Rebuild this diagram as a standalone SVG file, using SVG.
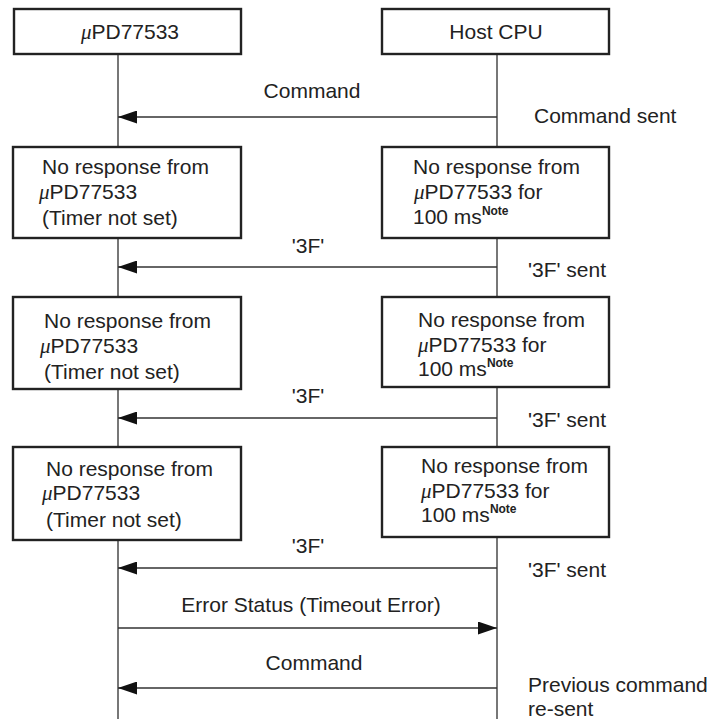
<svg xmlns="http://www.w3.org/2000/svg" width="712" height="719" viewBox="0 0 712 719">
<defs>
<style>
text{font-family:"Liberation Sans",Arial,sans-serif;font-size:21px;fill:#222}
.mu{font-family:"Liberation Serif","Times New Roman",serif;font-style:italic}
.note{font-size:12px;font-weight:bold}
.box{fill:#fff;stroke:#222;stroke-width:2.4}
.life{stroke:#555;stroke-width:1.6;fill:none}
.msg{stroke:#333;stroke-width:1.3;fill:none}
.mid{text-anchor:middle}
</style>
<marker id="ah" viewBox="0 0 19 13" refX="19" refY="6.5" markerWidth="19" markerHeight="13" markerUnits="userSpaceOnUse" orient="auto">
<path d="M0,0 L19,6.5 L0,13 Z" fill="#111"/>
</marker>
</defs>
<rect width="712" height="719" fill="#fff"/>
<g id="lifelines">
<line class="life" x1="118" y1="54" x2="118" y2="719"/>
<line class="life" x1="497" y1="54" x2="497" y2="719"/>
</g>
<g id="connectors">
<line class="msg" x1="497" y1="117" x2="118" y2="117" marker-end="url(#ah)"/>
<line class="msg" x1="497" y1="267" x2="118" y2="267" marker-end="url(#ah)"/>
<line class="msg" x1="497" y1="418" x2="118" y2="418" marker-end="url(#ah)"/>
<line class="msg" x1="497" y1="568" x2="118" y2="568" marker-end="url(#ah)"/>
<line class="msg" x1="118" y1="628" x2="497" y2="628" marker-end="url(#ah)"/>
<line class="msg" x1="497" y1="688" x2="118" y2="688" marker-end="url(#ah)"/>
<text class="mid" x="312" y="98">Command</text>
<text x="534" y="123">Command sent</text>
<text class="mid" x="308" y="253">'3F'</text>
<text x="528" y="277">'3F' sent</text>
<text class="mid" x="308" y="403">'3F'</text>
<text x="528" y="427">'3F' sent</text>
<text class="mid" x="308" y="553">'3F'</text>
<text x="528" y="577">'3F' sent</text>
<text class="mid" x="311" y="612">Error Status (Timeout Error)</text>
<text class="mid" x="314" y="670">Command</text>
<text x="528" y="692">Previous command</text>
<text x="528" y="716">re-sent</text>
</g>
<g id="upd">
<rect class="box" x="14" y="9" width="227" height="45"/>
<text class="mid" x="130" y="39"><tspan class="mu">μ</tspan>PD77533</text>
</g>
<g id="host">
<rect class="box" x="382" y="9" width="227" height="45"/>
<text class="mid" x="496" y="39">Host CPU</text>
</g>
<g id="upd-wait1">
<rect class="box" x="13" y="147" width="228" height="91"/>
<text x="42" y="174">No response from</text>
<text x="39" y="199"><tspan class="mu">μ</tspan>PD77533</text>
<text x="42" y="225">(Timer not set)</text>
</g>
<g id="host-wait1">
<rect class="box" x="382" y="147" width="227" height="91"/>
<text x="413" y="174">No response from</text>
<text x="414" y="199"><tspan class="mu">μ</tspan>PD77533 for</text>
<text x="413" y="224">100 ms<tspan class="note" dy="-9">Note</tspan></text>
</g>
<g id="upd-wait2">
<rect class="box" x="13" y="297" width="228" height="92"/>
<text x="44" y="328">No response from</text>
<text x="40" y="353"><tspan class="mu">μ</tspan>PD77533</text>
<text x="44" y="379">(Timer not set)</text>
</g>
<g id="host-wait2">
<rect class="box" x="382" y="297" width="227" height="90"/>
<text x="418" y="327">No response from</text>
<text x="418" y="352"><tspan class="mu">μ</tspan>PD77533 for</text>
<text x="418" y="376">100 ms<tspan class="note" dy="-9">Note</tspan></text>
</g>
<g id="upd-wait3">
<rect class="box" x="13" y="447" width="228" height="93"/>
<text x="46" y="476">No response from</text>
<text x="42" y="500"><tspan class="mu">μ</tspan>PD77533</text>
<text x="46" y="527">(Timer not set)</text>
</g>
<g id="host-wait3">
<rect class="box" x="382" y="447" width="227" height="90"/>
<text x="421" y="473">No response from</text>
<text x="421" y="498"><tspan class="mu">μ</tspan>PD77533 for</text>
<text x="421" y="522">100 ms<tspan class="note" dy="-9">Note</tspan></text>
</g>
</svg>
